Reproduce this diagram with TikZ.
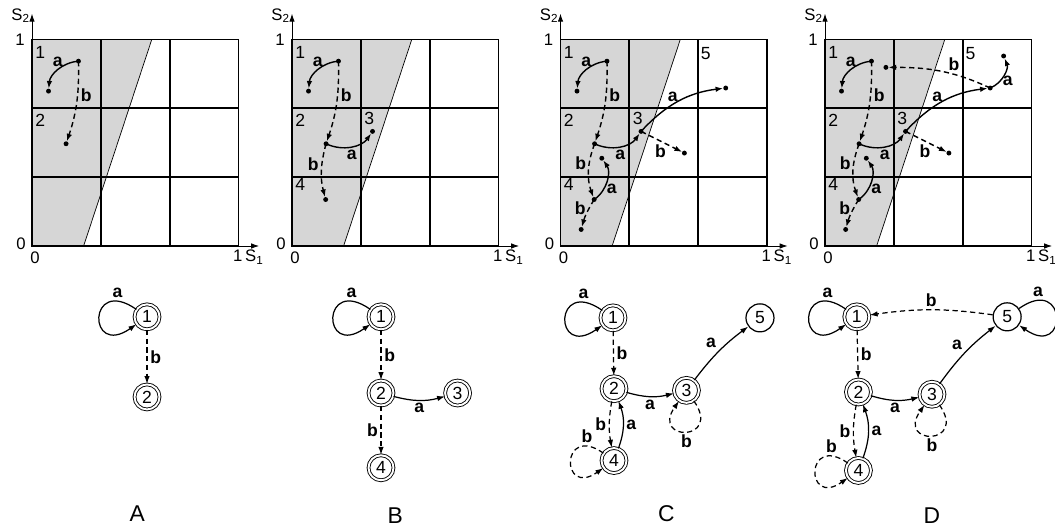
\documentclass[tikz,border=0pt]{standalone}
\usepackage{fontspec}
\setmainfont{Liberation Sans}
\usetikzlibrary{arrows.meta,positioning}
\newcommand{\sqgrid}{%
  \fill[black!16] (0,0)--(0.25,0)--(0.58,1)--(0,1)--cycle;
  \draw[line width=0.4pt] (0.25,0)--(0.58,1);
  \draw[line width=1.1pt] (0,0) rectangle (1,1);
  \foreach \t in {1/3,2/3} {\draw[line width=1.1pt] (\t,0)--(\t,1); \draw[line width=1.1pt] (0,\t)--(1,\t);}
  \draw[axline] (0,0)--(0,1.125);
  \draw[axline] (0,0)--(1.1,0);
  \node[axlbl,anchor=base east] (s2) at (0,1.094) {S\textsubscript{2}};
  \node[axlbl,anchor=east] (y1) at (-0.025,1) {1};
  \node[axlbl,anchor=east] (y0) at (-0.02,0.01) {0};
  \node[axlbl,anchor=north] (x0) at (0.015,-0.02) {0};
  \node[axlbl,anchor=base west,inner sep=0pt] (s1) at (0.972,-0.076) {1\,S\textsubscript{1}};}

\begin{document}
\begin{tikzpicture}[
  axline/.style={line width=0.5pt,-{Latex[length=1.6mm,width=1.1mm]}},
  axlbl/.style={font=\fontsize{9.5}{10}\selectfont,inner sep=1pt},
  traj/.style={line width=0.8pt,-{Latex[length=1.5mm,width=1.1mm]},shorten >=1.5pt},
  dsh/.style={dash pattern=on 3pt off 2pt},
  lbl/.style={font=\fontsize{10}{11}\selectfont\bfseries,inner sep=1.5pt},
  num/.style={font=\fontsize{10}{11}\selectfont},
  acc/.style={circle,draw,double,double distance=1.1pt,line width=0.5pt,minimum size=0.5cm,inner sep=0pt,font=\fontsize{10}{10}\selectfont},
  st/.style={circle,draw,line width=0.7pt,minimum size=0.56cm,inner sep=0pt,font=\fontsize{10}{10}\selectfont},
  edg/.style={line width=0.7pt,-{Latex[length=1.6mm,width=1.1mm]}},
  pnl/.style={font=\fontsize{13}{15}\selectfont,inner sep=0pt}]
\useasboundingbox (0,0) rectangle (21.1,10.54);
% A
\begin{scope}[shift={(0.64cm,5.62cm)},x=4.13cm,y=4.13cm]
\sqgrid
\foreach \n/\x/\y in {1/0.04/0.935,2/0.04/0.61} \node[num] (r\n) at (\x,\y) {\n};
\coordinate (p1) at (0.225,0.895);
\coordinate (q1) at (0.08,0.75);
\coordinate (p2) at (0.165,0.495);
\draw[traj] (p1) to[bend right=40] node[lbl,above] {a} (q1);
\draw[traj,dsh] (p1) to[bend left=10] node[lbl,right,pos=0.4] {b} (p2);
\foreach \p in {p1,q1,p2} \fill (\p) circle (1.4pt);
\node[acc] (A1) at (0.557,-0.343) {1};
\node[acc] (A2) at (0.557,-0.731) {2};
\draw[edg] (A1) to[out=145,in=215,min distance=1.2cm] node[lbl,above,pos=0.15] {a} (A1);
\draw[edg,dsh] (A1) -- node[lbl,right] {b} (A2);
\node[pnl] (lA) at (0.51,-1.296) {A};
\end{scope}
% B
\begin{scope}[shift={(5.84cm,5.62cm)},x=4.13cm,y=4.13cm]
\sqgrid
\foreach \n/\x/\y in {1/0.04/0.935,2/0.04/0.61,3/0.374/0.62,4/0.04/0.296} \node[num] (r\n) at (\x,\y) {\n};
\coordinate (p1) at (0.225,0.895);
\coordinate (q1) at (0.08,0.75);
\coordinate (p2) at (0.165,0.495);
\coordinate (p3) at (0.39,0.555);
\coordinate (p4) at (0.163,0.225);
\draw[traj] (p1) to[bend right=40] node[lbl,above] {a} (q1);
\draw[traj,dsh] (p1) to[bend left=10] node[lbl,right,pos=0.4] {b} (p2);
\draw[traj] (p2) to[bend right=40] node[lbl,below] {a} (p3);
\draw[traj,dsh] (p2) to[bend right=15] node[lbl,left,pos=0.35] {b} (p4);
\foreach \p in {p1,q1,p2,p3,p4} \fill (\p) circle (1.4pt);
\node[acc] (B1) at (0.431,-0.343) {1};
\node[acc] (B2) at (0.431,-0.712) {2};
\node[acc] (B3) at (0.802,-0.712) {3};
\node[acc] (B4) at (0.431,-1.074) {4};
\draw[edg] (B1) to[out=145,in=215,min distance=1.2cm] node[lbl,above,pos=0.15] {a} (B1);
\draw[edg,dsh] (B1) -- node[lbl,right] {b} (B2);
\draw[edg] (B2) to[bend right=15] node[lbl,below] {a} (B3);
\draw[edg,dsh] (B2) -- node[lbl,left] {b} (B4);
\node[pnl] (lB) at (0.5,-1.305) {B};
\end{scope}
% C
\begin{scope}[shift={(11.21cm,5.62cm)},x=4.13cm,y=4.13cm]
\sqgrid
\foreach \n/\x/\y in {1/0.04/0.935,2/0.04/0.61,3/0.374/0.62,4/0.04/0.296,5/0.704/0.93} \node[num] (r\n) at (\x,\y) {\n};
\coordinate (p1) at (0.225,0.895);
\coordinate (q1) at (0.08,0.75);
\coordinate (p2) at (0.165,0.495);
\coordinate (p3) at (0.39,0.555);
\coordinate (p4) at (0.163,0.225);
\coordinate (q4) at (0.2,0.425);
\coordinate (r4) at (0.1,0.08);
\coordinate (s3) at (0.6,0.45);
\coordinate (p5) at (0.8,0.765);
\draw[traj] (p1) to[bend right=40] node[lbl,above] {a} (q1);
\draw[traj,dsh] (p1) to[bend left=10] node[lbl,right,pos=0.4] {b} (p2);
\draw[traj] (p2) to[bend right=40] node[lbl,below] {a} (p3);
\draw[traj,dsh] (p2) to[bend right=20] node[lbl,left,pos=0.35] {b} (p4);
\draw[traj] (p4) to[bend right=45] node[lbl,right,pos=0.3] {a} (q4);
\draw[traj,dsh] (p4) to[bend right=8] node[lbl,left,pos=0.3] {b} (r4);
\draw[traj] (p3) to[bend left=20] node[lbl,above,pos=0.42] {a} (p5);
\draw[traj,dsh] (p3) -- node[lbl,below,pos=0.45] {b} (s3);
\foreach \p in {p1,q1,p2,p3,p4,q4,r4,s3,p5} \fill (\p) circle (1.4pt);
\node[acc] (C1) at (0.254,-0.348) {1};
\node[acc] (C2) at (0.259,-0.691) {2};
\node[acc] (C3) at (0.61,-0.699) {3};
\node[acc] (C4) at (0.259,-1.039) {4};
\node[st] (C5) at (0.966,-0.348) {5};
\draw[edg] (C1) to[out=145,in=215,min distance=1.2cm] node[lbl,above,pos=0.15] {a} (C1);
\draw[edg,dsh] (C1) -- node[lbl,right] {b} (C2);
\draw[edg] (C2) to[bend right=15] node[lbl,below] {a} (C3);
\draw[edg,dsh] (C2) to[bend right=10] node[lbl,left] {b} (C4);
\draw[edg] (C4) to[bend right=20] node[lbl,right] {a} (C2);
\draw[edg,dsh] (C4) to[out=145,in=215,min distance=1.05cm] node[lbl,above,pos=0.15] {b} (C4);
\draw[edg,dsh] (C3) to[out=-55,in=-125,min distance=1cm] node[lbl,below] {b} (C3);
\draw[edg] (C3) to[bend left=8] node[lbl,above left] {a} (C5);
\node[pnl] (lC) at (0.513,-1.296) {C};
\end{scope}
% D
\begin{scope}[shift={(16.5cm,5.62cm)},x=4.13cm,y=4.13cm]
\sqgrid
\foreach \n/\x/\y in {1/0.04/0.935,2/0.04/0.61,3/0.374/0.62,4/0.04/0.296,5/0.704/0.93} \node[num] (r\n) at (\x,\y) {\n};
\coordinate (p1) at (0.225,0.895);
\coordinate (q1) at (0.08,0.75);
\coordinate (p2) at (0.165,0.495);
\coordinate (p3) at (0.39,0.555);
\coordinate (p4) at (0.163,0.225);
\coordinate (q4) at (0.2,0.425);
\coordinate (r4) at (0.1,0.08);
\coordinate (s3) at (0.6,0.45);
\coordinate (p5) at (0.8,0.765);
\coordinate (t5) at (0.295,0.865);
\coordinate (u5) at (0.865,0.92);
\draw[traj] (p1) to[bend right=40] node[lbl,above] {a} (q1);
\draw[traj,dsh] (p1) to[bend left=10] node[lbl,right,pos=0.4] {b} (p2);
\draw[traj] (p2) to[bend right=40] node[lbl,below] {a} (p3);
\draw[traj,dsh] (p2) to[bend right=20] node[lbl,left,pos=0.35] {b} (p4);
\draw[traj] (p4) to[bend right=45] node[lbl,right,pos=0.3] {a} (q4);
\draw[traj,dsh] (p4) to[bend right=8] node[lbl,left,pos=0.3] {b} (r4);
\draw[traj] (p3) to[bend left=20] node[lbl,above,pos=0.42] {a} (p5);
\draw[traj,dsh] (p3) -- node[lbl,below,pos=0.45] {b} (s3);
\draw[traj,dsh] (p5) to[out=155,in=0] node[lbl,above,pos=0.35] {b} (t5);
\draw[traj] (p5) to[bend right=45] node[lbl,right,pos=0.3] {a} (u5);
\foreach \p in {p1,q1,p2,p3,p4,q4,r4,s3,p5,t5,u5} \fill (\p) circle (1.4pt);
\node[acc] (D1) at (0.154,-0.343) {1};
\node[acc] (D2) at (0.162,-0.707) {2};
\node[acc] (D3) at (0.518,-0.718) {3};
\node[acc] (D4) at (0.162,-1.087) {4};
\node[st] (D5) at (0.882,-0.343) {5};
\draw[edg] (D1) to[out=145,in=215,min distance=1.2cm] node[lbl,above,pos=0.15] {a} (D1);
\draw[edg,dsh] (D1) -- node[lbl,right] {b} (D2);
\draw[edg] (D2) to[bend right=15] node[lbl,below] {a} (D3);
\draw[edg,dsh] (D2) to[bend right=10] node[lbl,left] {b} (D4);
\draw[edg] (D4) to[bend right=20] node[lbl,right] {a} (D2);
\draw[edg,dsh] (D4) to[out=145,in=215,min distance=1.05cm] node[lbl,above,pos=0.15] {b} (D4);
\draw[edg,dsh] (D3) to[out=-55,in=-125,min distance=1cm] node[lbl,below] {b} (D3);
\draw[edg] (D3) to[bend left=8] node[lbl,above left] {a} (D5);
\draw[edg,dsh] (D5) to[bend right=8] node[lbl,above] {b} (D1);
\draw[edg] (D5) to[out=35,in=-35,min distance=1.2cm] node[lbl,above,pos=0.15] {a} (D5);
\node[pnl] (lD) at (0.518,-1.306) {D};
\end{scope}
\end{tikzpicture}
\end{document}
